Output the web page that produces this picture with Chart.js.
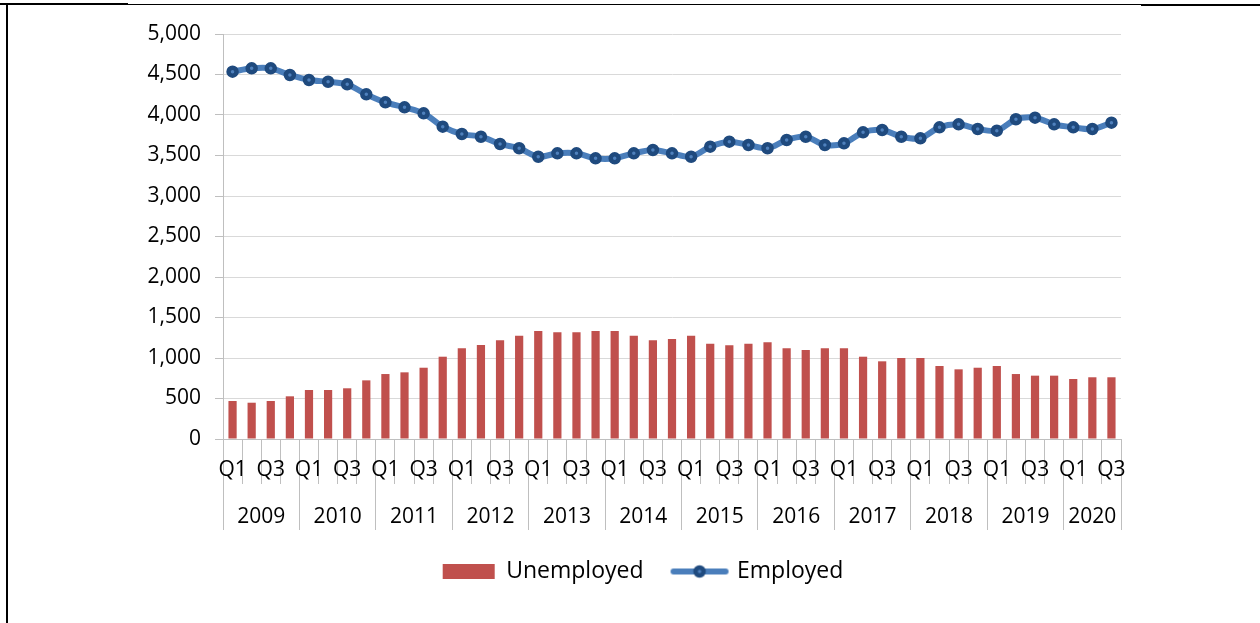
<!DOCTYPE html>
<html>
<head>
<meta charset="utf-8">
<script src="https://cdn.jsdelivr.net/npm/chart.js@4"></script>
<style>
    body { margin: 0; background: #fff; }
    #wrap { position: relative; width: 1260px; height: 623px; overflow: hidden; }
    #chart { position: absolute; left: 0; top: 0; }
    .rule { position: absolute; background: #000; }
</style>
</head>
<body>
<div id="wrap">
    <div class="rule" style="left:0;top:3px;width:128px;height:2px"></div>
    <div class="rule" style="left:128px;top:4px;width:1013px;height:1px"></div>
    <div class="rule" style="left:1141px;top:4px;width:119px;height:2px"></div>
    <div class="rule" style="left:6px;top:4px;width:2px;height:619px"></div>
    <canvas id="chart" width="1260" height="623"></canvas>
</div>
<script>
// Etichette trimestrali (2009 Q1 - 2020 Q3)
const quarterLabels = [
    'Q1','Q2','Q3','Q4', 'Q1','Q2','Q3','Q4', 'Q1','Q2','Q3','Q4',
    'Q1','Q2','Q3','Q4', 'Q1','Q2','Q3','Q4', 'Q1','Q2','Q3','Q4',
    'Q1','Q2','Q3','Q4', 'Q1','Q2','Q3','Q4', 'Q1','Q2','Q3','Q4',
    'Q1','Q2','Q3','Q4', 'Q1','Q2','Q3','Q4', 'Q1','Q2','Q3'
];
const yearLabels = ['2009','2010','2011','2012','2013','2014','2015','2016','2017','2018','2019','2020'];

// Valori
const unemployed = [
    469, 448, 469, 527, 605, 605, 626, 724, 802, 823, 880, 1016,
    1119, 1160, 1218, 1276, 1333, 1317, 1317, 1333, 1333, 1276, 1218, 1235,
    1276, 1177, 1156, 1177, 1193, 1119, 1099, 1119, 1119, 1016, 959, 1000,
    1000, 901, 860, 880, 901, 802, 782, 782, 741, 762, 762
];
const employed = [
    4535, 4576, 4576, 4494, 4432, 4411, 4379, 4255, 4156, 4095, 4021, 3856,
    3765, 3732, 3642, 3589, 3485, 3527, 3527, 3465, 3465, 3527, 3568, 3527,
    3485, 3609, 3671, 3630, 3589, 3691, 3732, 3630, 3650, 3786, 3815, 3732,
    3712, 3848, 3885, 3827, 3807, 3947, 3967, 3885, 3848, 3827, 3905
];

const FONT = 'Open Sans';
const GRID = '#D9D9D9';
const AXIS = '#BFBFBF';

// Tick per l'asse degli anni: separatori tra gli anni + etichetta al centro del gruppo
function buildYearTicks() {
    const ticks = [];
    let start = 0;
    yearLabels.forEach(year => {
        let end = start + 1;
        while (end < quarterLabels.length && quarterLabels[end] !== 'Q1') end++;
        ticks.push({ value: start - 0.5, year: '' });
        ticks.push({ value: (start + end - 1) / 2, year: year });
        start = end;
    });
    ticks.push({ value: quarterLabels.length - 0.5, year: '' });
    return ticks;
}

// Icona della legenda per la serie a linea
function lineLegendIcon() {
    const c = document.createElement('canvas');
    c.width = 60;
    c.height = 16;
    const g = c.getContext('2d');
    g.strokeStyle = '#4A7EBB';
    g.lineWidth = 6;
    g.lineCap = 'round';
    g.beginPath();
    g.moveTo(4, 8);
    g.lineTo(56, 8);
    g.stroke();
    g.beginPath();
    g.arc(30, 8, 4, 0, Math.PI * 2);
    g.fillStyle = '#4F81BD';
    g.fill();
    g.lineWidth = 4.5;
    g.strokeStyle = '#1F4A7E';
    g.stroke();
    return c;
}

const lineIcon = lineLegendIcon();

// Sposta un poco la legenda verso destra, come nell'originale
const legendShift = {
    id: 'legendShift',
    afterLayout(chart) {
        chart.legend.left += 16;
        chart.legend.right += 16;
    }
};

new Chart(document.getElementById('chart'), {
    data: {
        labels: quarterLabels,
        datasets: [
            {
                type: 'bar',
                label: 'Unemployed',
                data: unemployed,
                backgroundColor: '#C0504D',
                categoryPercentage: 1,
                barPercentage: 0.43
            },
            {
                type: 'line',
                label: 'Employed',
                data: employed,
                borderColor: '#4A7EBB',
                borderWidth: 6,
                tension: 0.3,
                pointRadius: 4,
                pointBorderWidth: 4.5,
                pointBorderColor: '#1F4A7E',
                pointBackgroundColor: '#4F81BD'
            }
        ]
    },
    options: {
        responsive: false,
        animation: false,
        layout: {
            padding: { left: 133, right: 139, top: 34, bottom: 30 }
        },
        scales: {
            y: {
                min: 0,
                max: 5000,
                ticks: { stepSize: 500, padding: 14, color: '#000', font: { family: FONT, size: 21 } },
                grid: { color: GRID, tickLength: 8, tickColor: AXIS },
                border: { color: AXIS },
                afterFit: s => { s.width = 90; }
            },
            x: {
                type: 'category',
                offset: true,
                weight: 0,
                ticks: {
                    autoSkip: false,
                    maxRotation: 0,
                    padding: -27,
                    color: '#000',
                    font: { family: FONT, size: 21 },
                    callback: (v, i) => (quarterLabels[i] === 'Q1' || quarterLabels[i] === 'Q3') ? quarterLabels[i] : ''
                },
                grid: { offset: true, drawOnChartArea: false, tickLength: 45, color: AXIS },
                border: { color: AXIS },
                afterFit: s => { s.height = 45; }
            },
            x2: {
                type: 'linear',
                position: 'bottom',
                weight: 1,
                min: -0.5,
                max: quarterLabels.length - 0.5,
                afterBuildTicks: s => { s.ticks = buildYearTicks(); },
                ticks: {
                    autoSkip: false,
                    maxRotation: 0,
                    padding: -26,
                    color: '#000',
                    font: { family: FONT, size: 21 },
                    callback: (v, i, ticks) => ticks[i].year
                },
                grid: {
                    drawOnChartArea: false,
                    tickLength: 46,
                    color: ctx => (ctx.tick && ctx.tick.year) ? 'rgba(0,0,0,0)' : AXIS
                },
                border: { display: false },
                afterFit: s => { s.height = 46; }
            }
        },
        plugins: {
            tooltip: { enabled: false },
            legend: {
                position: 'bottom',
                labels: {
                    usePointStyle: true,
                    pointStyleWidth: 52,
                    boxHeight: 15,
                    padding: 30,
                    color: '#000',
                    font: { family: FONT, size: 23 },
                    generateLabels: chart => {
                        const items = Chart.defaults.plugins.legend.labels.generateLabels(chart);
                        items[0].pointStyle = 'rect';
                        items[0].lineWidth = 0;
                        items[1].pointStyle = lineIcon;
                        return items;
                    }
                }
            }
        }
    },
    plugins: [legendShift]
});
</script>
</body>
</html>
